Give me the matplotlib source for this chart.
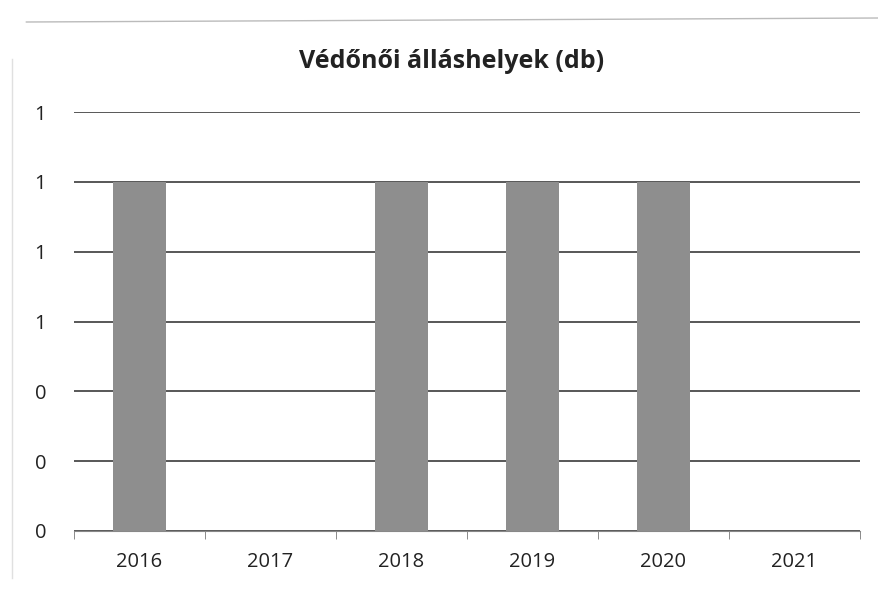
import matplotlib.pyplot as plt
from matplotlib.ticker import FormatStrFormatter, FixedLocator

years = ['2016', '2017', '2018', '2019', '2020', '2021']
positions = [1, 0, 1, 1, 1, 0]
y_ticks = [0, 0.2, 0.4, 0.6, 0.8, 1.0, 1.2]

plt.rcParams['font.family'] = ['Open Sans', 'DejaVu Sans']

fig = plt.figure(figsize=(8.79, 5.9), dpi=100)
ax = fig.add_axes([74 / 879, 1 - 531 / 590, 786 / 879, (531 - 112) / 590])

x = range(len(years))
ax.bar(x, positions, width=0.4, color='#8e8e8e', zorder=3)

ax.set_xlim(-0.5, len(years) - 0.5)
ax.set_ylim(0, 1.2)
ax.set_yticks(y_ticks)
ax.yaxis.set_major_formatter(FormatStrFormatter('%.0f'))
ax.grid(axis='y', color='#4a4a4a', linewidth=1.3, zorder=1)

ax.set_xticks(list(x))
ax.set_xticklabels(years)
ax.xaxis.set_minor_locator(FixedLocator([i - 0.5 for i in range(len(years) + 1)]))
ax.tick_params(axis='x', which='major', length=0, pad=15, labelsize=14.5, colors='#222222')
ax.tick_params(axis='x', which='minor', length=6, color='#777777')
ax.tick_params(axis='y', length=0, pad=20, labelsize=14.5, colors='#222222')

for side in ['top', 'right', 'left']:
    ax.spines[side].set_visible(False)
ax.spines['bottom'].set_color('#888888')

fig.text(452 / 879, 1 - 62 / 590, 'Védőnői álláshelyek (db)', ha='center', va='center',
         fontsize=18, fontweight='bold', color='#222222')

# faint scan border at top and left
fig.add_artist(plt.Line2D([0.03, 1.0], [1 - 22 / 590, 1 - 18 / 590], color='#bbbbbb', linewidth=1))
fig.add_artist(plt.Line2D([12 / 879, 12 / 879], [0.02, 0.9], color='#e0e0e0', linewidth=1))

fig.savefig('out.png', dpi=100)
